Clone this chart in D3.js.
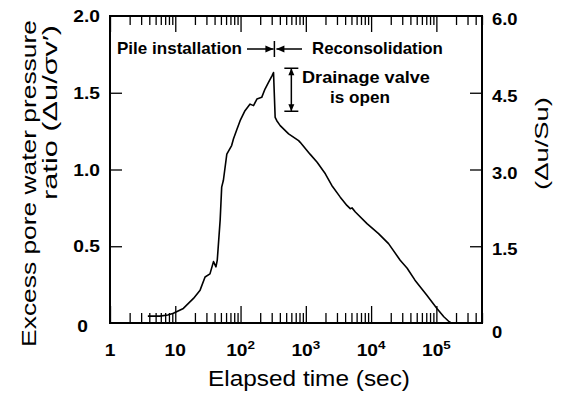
<!DOCTYPE html>
<html><head><meta charset="utf-8">
<script src="https://cdn.jsdelivr.net/npm/d3@7"></script>
<style>body{margin:0;background:#fff}svg{display:block}</style>
</head><body><svg id="c" width="567" height="396"></svg>
<script>
// ---- data ----
const timeSec = [3.8, 5.8, 7.7, 9.35, 13.3, 19, 24, 28.6, 34, 38.5, 42, 44, 48.7, 51.4, 54.6, 61.6, 73, 78, 87.8, 98.5, 117, 140, 158, 178, 211, 237, 268, 303, 320, 339, 359, 405, 545, 775, 820, 1160, 1490, 1990, 2500, 3370, 4260, 4790, 5100, 5740, 8650, 13000, 18500, 27900, 35700, 47000, 71000, 102000, 130000, 157000, 170000];
const poreRatio = [0.045, 0.045, 0.052, 0.063, 0.095, 0.16, 0.214, 0.30, 0.32, 0.40, 0.366, 0.41, 0.67, 0.885, 0.93, 1.10, 1.156, 1.20, 1.26, 1.318, 1.383, 1.426, 1.416, 1.459, 1.47, 1.524, 1.567, 1.61, 1.632, 1.34, 1.318, 1.286, 1.232, 1.188, 1.177, 1.10, 1.047, 0.972, 0.896, 0.82, 0.766, 0.745, 0.75, 0.723, 0.647, 0.582, 0.517, 0.409, 0.357, 0.279, 0.182, 0.095, 0.041, 0.008, 0.0];

const xMajorTicks = [1, 10, 100, 1000, 10000, 100000];
const xTickBase = ["1", "10", "10", "10", "10", "10"];
const xTickExp = ["", "", "2", "3", "4", "5"];
const yLeftTicks = [0, 0.5, 1.0, 1.5, 2.0];
const yLeftLabels = ["0", "0.5", "1.0", "1.5", "2.0"];
const yRightTicks = [0, 1.5, 3.0, 4.5, 6.0];
const yRightLabels = ["0", "1.5", "3.0", "4.5", "6.0"];
const pileEndTime = 330;      // end of pile installation
const valveTime = 600;        // drainage valve bracket position
const valveRange = [1.38, 1.66];

// ---- layout ----
const FONT = "'Liberation Sans', Arial, Helvetica, sans-serif";
const L = 110, R = 482, T = 16, B = 323;
const svg = d3.select("#c");
const x = d3.scaleLog().domain([1, 5e5]).range([L, R]);
const y = d3.scaleLinear().domain([0, 2]).range([B, T]);
const y2 = d3.scaleLinear().domain([0, 6]).range([B, T]);

function label(parts, px, py, o = {}) {
  const g = svg.append("g").attr("transform", `translate(${px},${py}) rotate(${o.rot || 0})`);
  const t = g.append("text")
    .attr("font-family", FONT).attr("font-size", o.size || 16)
    .attr("font-weight", o.weight || "normal")
    .attr("text-anchor", o.anchor || "start").attr("fill", "#000");
  if (typeof parts === "string") parts = [parts];
  t.append("tspan").text(parts[0]);
  if (parts[1]) t.append("tspan").attr("dy", -7).attr("font-size", (o.size || 16) * 0.7).text(parts[1]);
  let sx = o.sx || 1;
  if (o.width) sx = o.width / t.node().getComputedTextLength();
  t.attr("transform", `scale(${sx},1)`);
  return t;
}

// minor tick values
const minors = [];
for (let d = 1; d < 5e5; d *= 10) for (let k = 2; k <= 9; k++) if (d * k <= 5e5) minors.push(d * k);

function styleAxis(g) { g.select(".domain").remove(); g.selectAll("line").attr("stroke", "#000").attr("stroke-width", 1.3); }

svg.append("g").attr("transform", `translate(0,${B})`).call(d3.axisBottom(x).tickValues(minors).tickSize(-10).tickFormat("")).call(styleAxis);
svg.append("g").attr("transform", `translate(0,${B})`).call(d3.axisBottom(x).tickValues(xMajorTicks).tickSize(-17).tickFormat("")).call(styleAxis);
svg.append("g").attr("transform", `translate(0,${T})`).call(d3.axisTop(x).tickValues(minors).tickSize(-9).tickFormat("")).call(styleAxis);
svg.append("g").attr("transform", `translate(0,${T})`).call(d3.axisTop(x).tickValues(xMajorTicks).tickSize(-16).tickFormat("")).call(styleAxis);
svg.append("g").attr("transform", `translate(${L},0)`).call(d3.axisLeft(y).tickValues(yLeftTicks.filter(v => v > 0 && v < 2)).tickSize(-12).tickFormat("")).call(styleAxis);
svg.append("g").attr("transform", `translate(${R},0)`).call(d3.axisRight(y2).tickValues(yRightTicks.filter(v => v > 0 && v < 6)).tickSize(-12).tickFormat("")).call(styleAxis);

// frame
svg.append("path").attr("d", `M${L},${T}H${R}V${B}H${L}Z`).attr("fill", "none").attr("stroke", "#000").attr("stroke-width", 2);

// tick labels
xMajorTicks.forEach((d, i) => label([xTickBase[i], xTickExp[i]], x(d), 356, { anchor: "middle", size: 16, weight: "bold", sx: 1.2 }));
yLeftTicks.forEach((d, i) => label(yLeftLabels[i], d === 0 ? 88 : 100, y(d) + (d === 0 ? 8.5 : 6), { anchor: "end", size: 16, weight: "bold", sx: 1.2 }));
yRightTicks.forEach((d, i) => label(yRightLabels[i], 492, y2(d) + (d === 0 ? 15 : 9), { anchor: "start", size: 16, weight: "bold", sx: 1.15 }));

// axis titles
label("Elapsed time (sec)", 309, 386, { anchor: "middle", size: 22, width: 202 });
label("Excess pore water pressure", 36, 183.5, { anchor: "middle", size: 21, rot: -90, width: 327 });
label("ratio (Δu/σv′)", 57, 112.5, { anchor: "middle", size: 21, rot: -90, width: 175 });
label("(Δu/Su)", 548, 143.5, { anchor: "middle", size: 19, rot: -90, width: 93 });

// curve
const pts = timeSec.map((t, i) => [t, poreRatio[i]]);
svg.append("path").datum(pts)
  .attr("d", d3.line().x(d => x(d[0])).y(d => y(d[1])))
  .attr("fill", "none").attr("stroke", "#000").attr("stroke-width", 1.6).attr("stroke-linejoin", "round");

// annotations
const px = x(pileEndTime);
label("Pile installation", 117, 54, { size: 17, weight: "bold", width: 125 });
label("Reconsolidation", 312, 54, { size: 17, weight: "bold", width: 131 });
svg.append("path").attr("d", `M247,49H${px - 1}M${px + 2},49H302M${px},41V57`).attr("stroke", "#000").attr("stroke-width", 1.5).attr("fill", "none");
svg.append("path").attr("d", `M${px - 1},49L${px - 9},45.5L${px - 9},52.5Z M${px + 2},49L${px + 10},45.5L${px + 10},52.5Z`).attr("fill", "#000");

const vx = x(valveTime), vt = y(valveRange[1]), vb = y(valveRange[0]);
svg.append("path").attr("d", `M${vx},${vt}V${vb}M${vx - 7},${vt}H${vx + 7}M${vx - 7},${vb}H${vx + 7}`).attr("stroke", "#000").attr("stroke-width", 1.5).attr("fill", "none");
svg.append("path").attr("d", `M${vx},${vt}L${vx - 3},${vt + 7}L${vx + 3},${vt + 7}Z M${vx},${vb}L${vx - 3},${vb - 7}L${vx + 3},${vb - 7}Z`).attr("fill", "#000");
label("Drainage valve", 302, 83, { size: 17, weight: "bold", width: 128 });
label("is open", 330, 103, { size: 17, weight: "bold", width: 60 });
</script></body></html>
